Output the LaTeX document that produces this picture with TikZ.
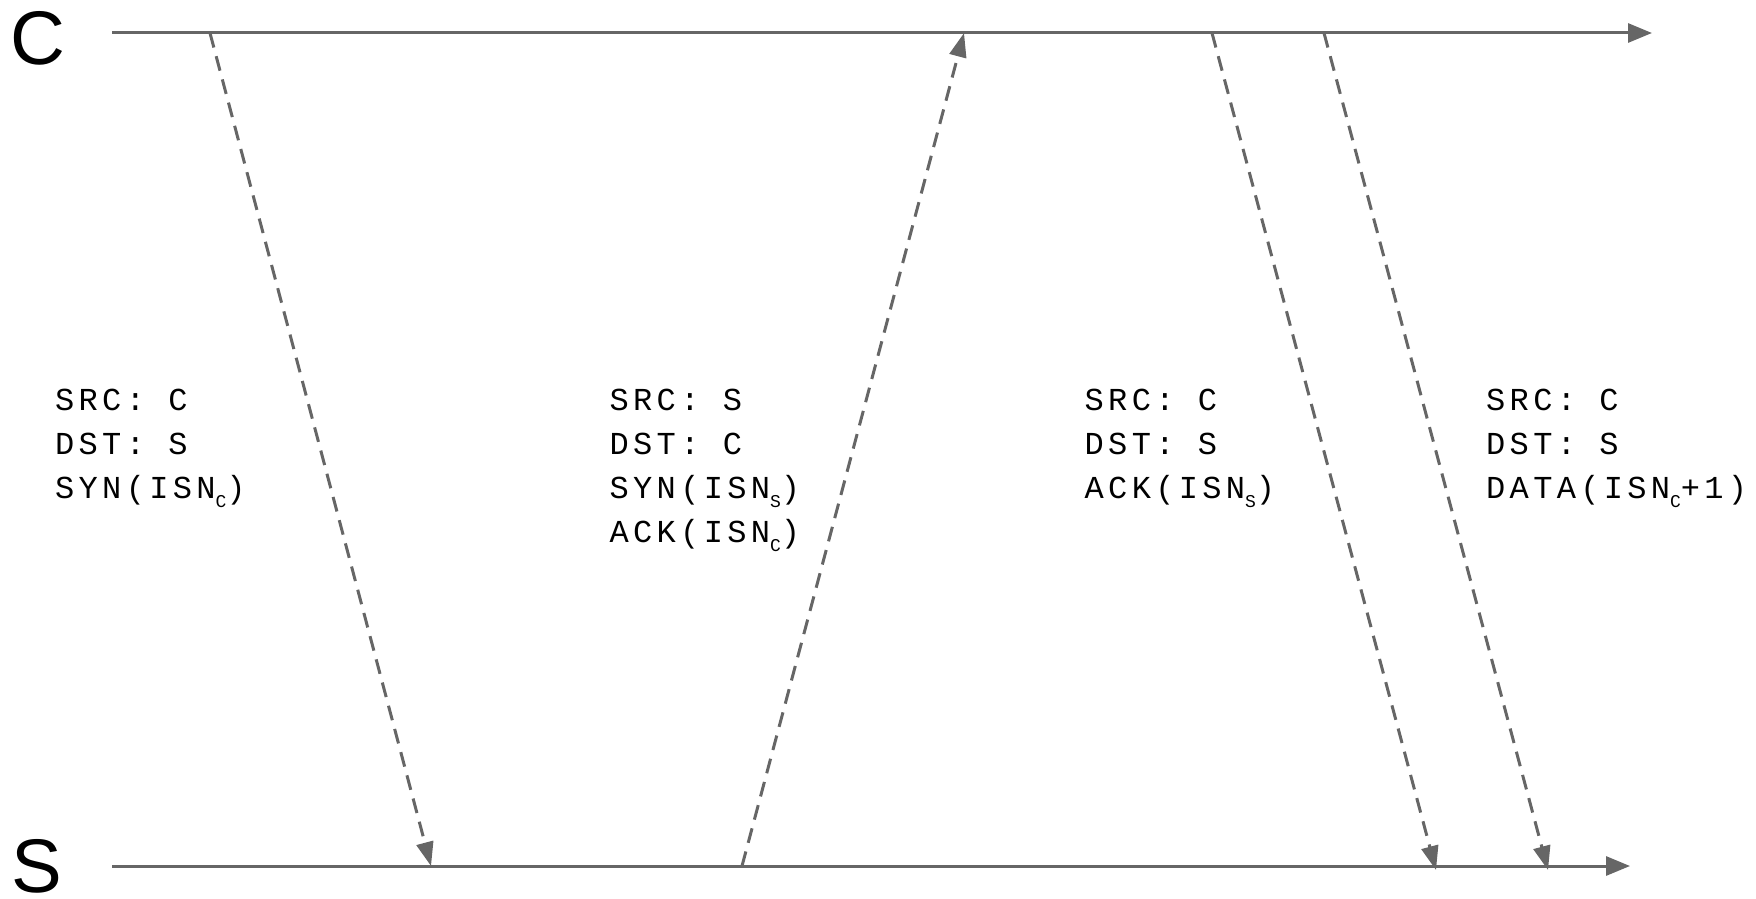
\documentclass[tikz,border=0pt]{standalone}
\usepackage{fontspec}
\setmainfont{Liberation Sans}
\newfontfamily\msgfont[LetterSpace=13.5]{Liberation Mono}
\usetikzlibrary{arrows.meta}
\definecolor{wire}{RGB}{102,102,102}
\newcommand\lowidx[1]{\raisebox{-9pt}{\fontsize{18}{18}\selectfont #1}}
\tikzset{
  timeline/.style={draw=wire, line width=3pt, -{Triangle[length=24pt,width=19pt]}},
  packet/.style={draw=wire, line width=3pt, dash pattern=on 15pt off 9pt,
                 -{Triangle[length=24pt,width=17pt]}},
  endpoint/.style={font=\fontsize{76}{76}\selectfont, inner sep=0pt},
  msgbox/.style={anchor=base west, inner sep=0pt,
                 font=\msgfont\fontsize{32}{44}\selectfont},
}
\begin{document}
\begin{tikzpicture}[x=1pt, y=-1pt]
  \useasboundingbox (0,0) rectangle (1756,899);

  % endpoints and their time axes
  \node[endpoint] (C) at (38,38) {C};
  \node[endpoint] (S) at (37,866) {S};
  \coordinate (ct0) at (112,33);
  \coordinate (ct1) at (1652,33);
  \coordinate (st0) at (112,866);
  \coordinate (st1) at (1630,866);
  \draw[timeline] (ct0) -- (ct1);
  \draw[timeline] (st0) -- (st1);

  % send / receive instants
  \coordinate (synC)  at (210,33);
  \coordinate (synS)  at (431,866);
  \coordinate (saS)   at (742,866);
  \coordinate (saC)   at (964,33);
  \coordinate (ackC)  at (1212,33);
  \coordinate (ackS)  at (1436,870);
  \coordinate (dataC) at (1324,33);
  \coordinate (dataS) at (1548,870);

  \draw[packet] (synC) -- (synS);
  \draw[packet] (saS) -- (saC);
  \draw[packet] (ackC) -- (ackS);
  \draw[packet] (dataC) -- (dataS);

  % segment headers
  \node[msgbox] (m1) at (55,410) {\begin{tabular}[t]{@{}l@{}}SRC: C\\DST: S\\SYN(ISN\lowidx{C})\end{tabular}};
  \node[msgbox] (m2) at (609.5,410) {\begin{tabular}[t]{@{}l@{}}SRC: S\\DST: C\\SYN(ISN\lowidx{S})\\ACK(ISN\lowidx{C})\end{tabular}};
  \node[msgbox] (m3) at (1084.5,410) {\begin{tabular}[t]{@{}l@{}}SRC: C\\DST: S\\ACK(ISN\lowidx{S})\end{tabular}};
  \node[msgbox] (m4) at (1486,410) {\begin{tabular}[t]{@{}l@{}}SRC: C\\DST: S\\DATA(ISN\lowidx{C}+1)\end{tabular}};
\end{tikzpicture}
\end{document}
